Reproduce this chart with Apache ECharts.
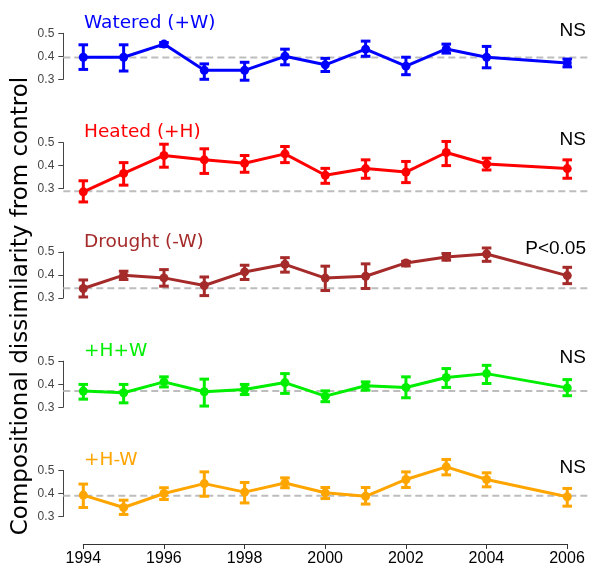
<!DOCTYPE html>
<html>
<head>
<meta charset="utf-8">
<script src="https://cdn.jsdelivr.net/npm/echarts@6/dist/echarts.min.js"></script>
<style>
html,body{margin:0;padding:0;background:#fff;}
#chart{width:589px;height:568px;}
</style>
</head>
<body>
<div id="chart"></div>
<script>
const years = [1994, 1995, 1996, 1997, 1998, 1999, 2000, 2001, 2002, 2003, 2004, 2006];

const wateredMean = [0.396, 0.396, 0.453, 0.339, 0.339, 0.400, 0.363, 0.431, 0.357, 0.432, 0.396, 0.371];
const wateredLow  = [0.343, 0.336, 0.443, 0.300, 0.296, 0.363, 0.334, 0.400, 0.320, 0.414, 0.350, 0.354];
const wateredHigh = [0.450, 0.450, 0.460, 0.367, 0.374, 0.431, 0.391, 0.466, 0.396, 0.453, 0.443, 0.388];

const heatedMean = [0.286, 0.366, 0.444, 0.425, 0.410, 0.451, 0.358, 0.387, 0.372, 0.457, 0.407, 0.387];
const heatedLow  = [0.242, 0.315, 0.393, 0.366, 0.371, 0.413, 0.323, 0.345, 0.326, 0.400, 0.381, 0.345];
const heatedHigh = [0.334, 0.413, 0.493, 0.473, 0.444, 0.483, 0.388, 0.425, 0.418, 0.505, 0.432, 0.425];

const droughtMean = [0.341, 0.399, 0.387, 0.354, 0.413, 0.446, 0.386, 0.394, 0.452, 0.478, 0.491, 0.397];
const droughtLow  = [0.304, 0.380, 0.351, 0.310, 0.380, 0.412, 0.332, 0.341, 0.439, 0.464, 0.459, 0.362];
const droughtHigh = [0.378, 0.416, 0.423, 0.391, 0.442, 0.475, 0.438, 0.448, 0.459, 0.493, 0.517, 0.433];

const hwMean = [0.370, 0.363, 0.410, 0.367, 0.377, 0.407, 0.348, 0.393, 0.386, 0.429, 0.446, 0.384];
const hwLow  = [0.335, 0.319, 0.388, 0.305, 0.355, 0.360, 0.324, 0.374, 0.341, 0.386, 0.403, 0.350];
const hwHigh = [0.399, 0.399, 0.432, 0.422, 0.399, 0.446, 0.371, 0.410, 0.432, 0.468, 0.482, 0.420];

const hdMean = [0.393, 0.339, 0.400, 0.443, 0.406, 0.446, 0.403, 0.388, 0.461, 0.516, 0.461, 0.386];
const hdLow  = [0.339, 0.309, 0.374, 0.388, 0.359, 0.425, 0.378, 0.354, 0.426, 0.481, 0.429, 0.345];
const hdHigh = [0.441, 0.371, 0.425, 0.494, 0.448, 0.468, 0.426, 0.426, 0.494, 0.548, 0.490, 0.422];

const controlLevel = [0.395, 0.289, 0.342, 0.370, 0.390];
const panelNames = ['Watered (+W)', 'Heated (+H)', 'Drought (-W)', '+H+W', '+H-W'];
const panelStats = ['NS', 'NS', 'P<0.05', 'NS', 'NS'];
const yTickMin = 0.3, yTickMax = 0.5, yTickStep = 0.1;
const xTickMin = 1994, xTickMax = 2006, xTickStep = 2;
const yTitle = 'Compositional dissimilarity from control';

const colors = ['#0000FF', '#FF0000', '#A52A2A', '#00EE00', '#FFA500'];
const means = [wateredMean, heatedMean, droughtMean, hwMean, hdMean];
const lows = [wateredLow, heatedLow, droughtLow, hwLow, hdLow];
const highs = [wateredHigh, heatedHigh, droughtHigh, hwHigh, hdHigh];

const tops = [33.3, 142.6, 251.9, 361.2, 470.5];
const panelH = 46;
const axisX = 63.3;
const xMin = 1993.504, xMax = 2006.539;

const grids = [], xAxes = [], yAxes = [], series = [], graphics = [];

for (let i = 0; i < 5; i++) {
  grids.push({left: axisX, right: 0, top: tops[i], height: panelH});
  xAxes.push({type: 'value', gridIndex: i, min: xMin, max: xMax, show: false});
  yAxes.push({
    type: 'value', gridIndex: i, min: yTickMin, max: yTickMax, interval: yTickStep,
    axisLine: {show: true, lineStyle: {color: '#444', width: 1}},
    axisTick: {show: true, length: 5, lineStyle: {color: '#444', width: 1}},
    axisLabel: {color: '#444', fontSize: 12, fontFamily: 'Liberation Sans', margin: 9,
      formatter: v => v.toFixed(1)},
    splitLine: {show: false}
  });
  const col = colors[i];
  series.push({
    type: 'custom', xAxisIndex: i, yAxisIndex: i, clip: false, z: 1, silent: true,
    data: [[xMin, controlLevel[i]]],
    renderItem: function (params, api) {
      const p = api.coord([api.value(0), api.value(1)]);
      const cs = params.coordSys;
      return {type: 'line', shape: {x1: cs.x, y1: p[1], x2: cs.x + cs.width, y2: p[1]},
        style: {stroke: '#bdbdbd', lineWidth: 2, lineDash: [7, 4]}};
    }
  });
  series.push({
    type: 'custom', xAxisIndex: i, yAxisIndex: i, clip: false, z: 3, silent: true,
    encode: {x: 0, y: [1, 2]},
    data: years.map((y, k) => [y, lows[i][k], highs[i][k]]),
    renderItem: function (params, api) {
      const a = api.coord([api.value(0), api.value(1)]);
      const b = api.coord([api.value(0), api.value(2)]);
      const w = 4.8;
      const st = {stroke: col, lineWidth: 3};
      return {type: 'group', children: [
        {type: 'line', shape: {x1: a[0], y1: a[1], x2: b[0], y2: b[1]}, style: st},
        {type: 'line', shape: {x1: a[0] - w, y1: a[1], x2: a[0] + w, y2: a[1]}, style: st},
        {type: 'line', shape: {x1: b[0] - w, y1: b[1], x2: b[0] + w, y2: b[1]}, style: st}
      ]};
    }
  });
  series.push({
    type: 'line', xAxisIndex: i, yAxisIndex: i, clip: false, z: 4, silent: true,
    data: years.map((y, k) => [y, means[i][k]]),
    symbol: 'circle', symbolSize: 9, showSymbol: true,
    lineStyle: {color: col, width: 3},
    itemStyle: {color: col},
    animation: false
  });
  graphics.push({
    type: 'text', x: 84, y: tops[i] - 10,
    style: {text: panelNames[i], fill: col, font: '18.5px "DejaVu Sans"', textAlign: 'left', textVerticalAlign: 'middle'}
  });
  graphics.push({
    type: 'text', x: 586, y: tops[i] - 3,
    style: {text: panelStats[i], fill: '#000', font: '19px "Liberation Sans"', textAlign: 'right', textVerticalAlign: 'middle'}
  });
}

grids.push({left: 83.3, right: 22, top: 543, height: 1});
xAxes.push({
  type: 'value', gridIndex: 5, min: xTickMin, max: xTickMax, interval: xTickStep, position: 'bottom',
  axisLine: {show: true, lineStyle: {color: '#333', width: 1}},
  axisTick: {show: true, length: 5, lineStyle: {color: '#333', width: 1}},
  axisLabel: {color: '#000', fontSize: 16, fontFamily: 'Liberation Sans', margin: 7, formatter: v => String(v)},
  splitLine: {show: false}
});
yAxes.push({type: 'value', gridIndex: 5, show: false});

graphics.push({
  type: 'text', x: 21.5, y: 306, rotation: Math.PI / 2,
  style: {text: yTitle, fill: '#000', font: '23px "DejaVu Sans"', textAlign: 'center', textVerticalAlign: 'middle'}
});

const chart = echarts.init(document.getElementById('chart'), null, {renderer: 'canvas'});
chart.setOption({
  animation: false,
  grid: grids,
  xAxis: xAxes,
  yAxis: yAxes,
  series: series,
  graphic: graphics
});
</script>
</body>
</html>
